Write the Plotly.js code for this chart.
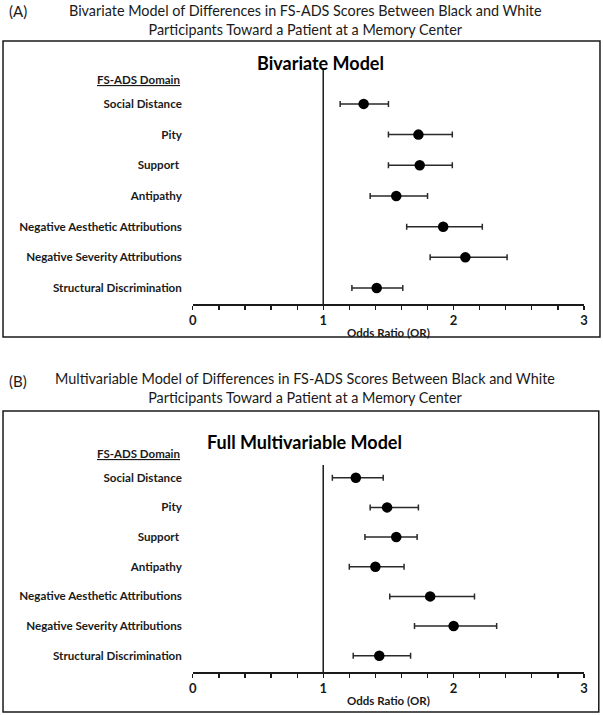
<!DOCTYPE html>
<html>
<head>
<meta charset="utf-8">
<script src="https://cdn.plot.ly/plotly-3.0.1.min.js"></script>
<style>html,body{margin:0;padding:0;background:#fff;}#chart{width:603px;height:715px;}</style>
</head>
<body>
<div id="chart"></div>
<script>
// Data
const categories = ["Social Distance", "Pity", "Support ", "Antipathy",
  "Negative Aesthetic Attributions", "Negative Severity Attributions", "Structural Discrimination"];
const orBivariate = [1.31, 1.73, 1.74, 1.56, 1.92, 2.09, 1.41];
const loBivariate = [1.13, 1.50, 1.50, 1.36, 1.64, 1.82, 1.22];
const hiBivariate = [1.50, 1.99, 1.99, 1.80, 2.22, 2.41, 1.61];
const orMulti = [1.25, 1.49, 1.56, 1.40, 1.82, 2.00, 1.43];
const loMulti = [1.07, 1.36, 1.32, 1.20, 1.51, 1.70, 1.23];
const hiMulti = [1.46, 1.73, 1.72, 1.62, 2.16, 2.33, 1.67];
const xTickVals = [0, 1, 2, 3];
const xTickText = ["0", "1", "2", "3"];

const FONT = "Lato, 'Open Sans', sans-serif";
const DARK = "#1a1a1a";

function trace(orv, lo, hi, xa, ya) {
  return {
    type: "scatter", mode: "markers",
    x: orv, y: categories, xaxis: xa, yaxis: ya,
    marker: {color: "#000", size: 10.5},
    error_x: {type: "data", symmetric: false,
      array: orv.map((v, i) => hi[i] - v),
      arrayminus: orv.map((v, i) => v - lo[i]),
      color: "#2a2a2a", thickness: 1.5, width: 3},
    showlegend: false, hoverinfo: "skip"
  };
}

function xaxis(anchor) {
  return {
    domain: [0.3198, 0.9685], anchor: anchor, range: [0, 3], autorange: false,
    showgrid: false, zeroline: false, showline: true, linecolor: DARK, linewidth: 1.5,
    ticks: "outside", ticklen: 4, tickwidth: 1.2, tickcolor: DARK,
    tickvals: xTickVals, ticktext: xTickText,
    minor: {dtick: 0.2, tick0: 0, ticks: "outside", ticklen: 4, tickwidth: 1.2, tickcolor: DARK},
    tickfont: {family: FONT, size: 13, color: DARK, weight: 700},
    title: {text: "Odds Ratio (OR)", font: {family: FONT, size: 11.5, color: DARK, weight: 700}, standoff: 2}
  };
}
function yaxis(dom, range, anchor) {
  return {
    domain: dom, anchor: anchor, type: "category", range: range, autorange: false,
    showgrid: false, zeroline: false, showline: false, ticks: "",
    ticklabelstandoff: 10,
    tickfont: {family: FONT, size: 11.6, color: DARK, weight: 700}
  };
}

const data = [
  trace(orBivariate, loBivariate, hiBivariate, "x", "y"),
  trace(orMulti, loMulti, hiMulti, "x2", "y2")
];

const layout = {
  width: 603, height: 715,
  margin: {l: 0, r: 0, t: 0, b: 0},
  paper_bgcolor: "#fff", plot_bgcolor: "rgba(0,0,0,0)",
  showlegend: false,
  xaxis: xaxis("y"),
  yaxis: yaxis([0.5748, 0.9049], [6.52, -1.17], "x"),
  xaxis2: xaxis("y2"),
  yaxis2: yaxis([0.0601, 0.3497], [6.55, -0.43], "x2"),
  shapes: [
    {type: "rect", xref: "paper", yref: "paper", x0: 0.005, x1: 0.995, y0: 0.5287, y1: 0.9427,
      line: {color: DARK, width: 1.5}},
    {type: "rect", xref: "paper", yref: "paper", x0: 0.005, x1: 0.993, y0: 0.0042, y1: 0.4252,
      line: {color: DARK, width: 1.5}},
    {type: "line", xref: "x", yref: "y domain", x0: 1, x1: 1, y0: 0, y1: 1,
      line: {color: DARK, width: 1.5}},
    {type: "line", xref: "x2", yref: "y2 domain", x0: 1, x1: 1, y0: 0, y1: 1,
      line: {color: DARK, width: 1.5}}
  ],
  annotations: [
    {xref: "paper", yref: "paper", x: 7/603, y: 1 - 11/715, xanchor: "left", yanchor: "middle",
      text: "(A)", showarrow: false, font: {family: FONT, size: 15, color: DARK}},
    {xref: "paper", yref: "paper", x: 305/603, y: 1 - 20/715, xanchor: "center", yanchor: "middle",
      text: "Bivariate Model of Differences in FS-ADS Scores Between Black and White<br>Participants Toward a Patient at a Memory Center",
      showarrow: false, font: {family: FONT, size: 14.4, color: DARK}},
    {xref: "paper", yref: "paper", x: 320/603, y: 1 - 63/715, xanchor: "center", yanchor: "middle",
      text: "<b>Bivariate Model</b>", showarrow: false, font: {family: FONT, size: 18, color: "#000"}},
    {xref: "paper", yref: "paper", x: 182/603, y: 1 - 80/715, xanchor: "right", yanchor: "middle",
      text: "<span style='text-decoration:underline'><b>FS-ADS Domain</b></span>", showarrow: false,
      font: {family: FONT, size: 11.5, color: DARK}},
    {xref: "paper", yref: "paper", x: 7/603, y: 1 - 381/715, xanchor: "left", yanchor: "middle",
      text: "(B)", showarrow: false, font: {family: FONT, size: 15, color: DARK}},
    {xref: "paper", yref: "paper", x: 305/603, y: 1 - 388/715, xanchor: "center", yanchor: "middle",
      text: "Multivariable Model of Differences in FS-ADS Scores Between Black and White<br>Participants Toward a Patient at a Memory Center",
      showarrow: false, font: {family: FONT, size: 14.4, color: DARK}},
    {xref: "paper", yref: "paper", x: 304/603, y: 1 - 442/715, xanchor: "center", yanchor: "middle",
      text: "<b>Full Multivariable Model</b>", showarrow: false, font: {family: FONT, size: 18, color: "#000"}},
    {xref: "paper", yref: "paper", x: 182/603, y: 1 - 453/715, xanchor: "right", yanchor: "middle",
      text: "<span style='text-decoration:underline'><b>FS-ADS Domain</b></span>", showarrow: false,
      font: {family: FONT, size: 11.5, color: DARK}}
  ]
};

Plotly.newPlot("chart", data, layout, {staticPlot: true, displayModeBar: false});
</script>
</body>
</html>
